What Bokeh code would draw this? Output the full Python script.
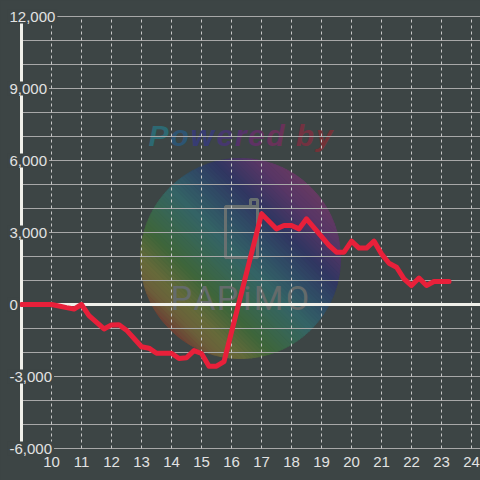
import numpy as np
from bokeh.plotting import figure
from bokeh.models import ColumnDataSource, GlobalInlineStyleSheet
from bokeh.core.properties import value
from bokeh.embed import file_html
from bokeh.resources import INLINE

BG = "#3d4545"

# ---- data ----
hours = [9.0, 10.0, 10.25, 10.5, 10.75, 11.0, 11.25, 11.75, 12.0, 12.25, 12.5,
         13.0, 13.25, 13.5, 14.0, 14.25, 14.5, 14.75, 15.0, 15.25, 15.5, 15.75,
         17.0, 17.5, 17.75, 18.0, 18.25, 18.5, 19.25, 19.5, 19.75, 20.0, 20.25,
         20.5, 20.75, 21.0, 21.25, 21.5, 21.75, 22.0, 22.25, 22.5, 22.75, 23.25]
pnl = [0, 0, -60, -130, -190, 0, -460, -1020, -850, -840, -1070,
       -1760, -1820, -2030, -2030, -2250, -2220, -1920, -2040, -2570, -2570, -2380,
       3780, 3150, 3290, 3290, 3150, 3570, 2460, 2180, 2180, 2640, 2350,
       2350, 2640, 2110, 1720, 1555, 1070, 790, 1100, 790, 960, 960]

x_ticks = list(range(10, 25))
x_tick_labels = [str(h) for h in x_ticks]
y_ticks = [-6000, -3000, 0, 3000, 6000, 9000, 12000]
y_tick_labels = ["-6,000", "-3,000", "0", "3,000", "6,000", "9,000", "12,000"]
y_grid = list(range(-6000, 13000, 1000))
x_min, y_min, y_max = 9, -6000, 12000

# ---- ranges / scale (frame = whole canvas) ----
SX = 30.0           # px per hour
SY = 0.024          # px per unit
x0 = x_min - 21 / SX
x1 = x_min + 459 / SX
y1 = y_max + 16 / SY
y0 = y_min - 32 / SY

p = figure(width=480, height=480, x_range=(x0, x1), y_range=(y0, y1),
           output_backend="svg", toolbar_location=None, min_border=0,
           background_fill_color=BG, border_fill_color=BG,
           outline_line_color=None)
p.stylesheets = [GlobalInlineStyleSheet(css="html, body { background-color: #3d4545; }")]
p.xgrid.visible = False
p.ygrid.visible = False
p.xaxis.visible = False
p.yaxis.visible = False

# ---- watermark (decoration) ----
cx, cy, R = 16.3, 1917.0, 100.0
stops_t = [-1.0, -0.85, -0.7, -0.45, -0.2, 0.0, 0.25, 0.5, 0.8, 1.0]
stops_c = [(108, 62, 52), (108, 96, 58), (103, 106, 58), (62, 102, 58),
           (56, 102, 84), (52, 100, 102), (48, 78, 102), (48, 54, 98),
           (88, 54, 102), (102, 58, 98)]
N = 64
edges = np.linspace(-R, R, N + 1)
sxs, sys_, cols = [], [], []
for a, b in zip(edges[:-1], edges[1:]):
    us = np.linspace(a, b, 6)
    vt = np.sqrt(np.maximum(R * R - us * us, 0))
    u = np.concatenate([us, us[::-1]])
    v = np.concatenate([vt, -vt[::-1]])
    xp = (u - v) / np.sqrt(2)
    yp = (u + v) / np.sqrt(2)
    sxs.append(list(cx + xp / SX))
    sys_.append(list(cy + yp / SY))
    t = (a + b) / 2 / R
    c = [int(round(np.interp(t, stops_t, [s[i] for s in stops_c]))) for i in range(3)]
    cols.append("#%02x%02x%02x" % tuple(c))
p.patches(sxs, sys_, fill_color=cols, line_color=cols, line_width=1)

# "Powered by"
letters = list("Powered by")
widths = [0.667, 0.611, 0.778, 0.556, 0.389, 0.556, 0.611, 0.278, 0.611, 0.556]
lcols = ["#2d6973", "#2d5573", "#373c73", "#46376e", "#55326a", "#5f3264",
         "#69325a", "#6e3240", "#733241", "#733237"]
fs = 30
scale = 186 / (sum(widths) * fs)
pos = 148 + np.concatenate([[0], np.cumsum(widths[:-1])]) * fs * scale
p.text(x=list(9 + (pos - 21) / SX), y=[(304 - 135) / SY] * len(letters),
       text=letters, text_color=lcols, text_font=value("Liberation Sans"),
       text_font_style="bold italic", text_font_size="%dpx" % fs,
       text_align="left", text_baseline="alphabetic")

# phone icon
p.quad(left=[9 + 204 / SX, 9 + 229 / SX], right=[9 + 236 / SX, 9 + 236 / SX],
       top=[98 / SY, 105 / SY], bottom=[47 / SY, 98 / SY],
       fill_color=None, line_color="#687070", line_width=3)
# PAPiMO
wm = list("PAPiMO")
wm_px = np.array([181, 204, 227, 247, 268, 297])
p.text(x=list(9 + (wm_px - 21) / SX), y=[(304 - 297) / SY] * 6, text=wm,
       text_color="#646b6b", text_font=value("Roboto"), text_font_size="34px",
       text_align="center", text_baseline="alphabetic")

# ---- grid ----
p.segment(x0=[x_min] * len(y_grid), x1=[x1] * len(y_grid), y0=y_grid, y1=y_grid,
          line_color="#a8a8a8", line_width=1)
p.segment(x0=x_ticks, x1=x_ticks, y0=[y_min] * len(x_ticks), y1=[y_max] * len(x_ticks),
          line_color="#c8c8c8", line_width=1, line_dash="3 3")

# zero line and axis line
p.segment(x0=[x_min], x1=[x1], y0=[0], y1=[0], line_color="#f0f0ea", line_width=3)
p.segment(x0=[x_min], x1=[x_min], y0=[y_min], y1=[y_max], line_color="#f0f0ea", line_width=3)

# ---- series ----
src = ColumnDataSource(dict(h=hours, v=pnl))
p.line("h", "v", source=src, line_color="#e8203a", line_width=5,
       line_join="round", line_cap="round")

# ---- tick labels ----
lab = ColumnDataSource(dict(x=[x_min] * len(y_ticks), y=y_ticks, t=y_tick_labels))
p.text("x", "y", text="t", source=lab, x_offset=-14, text_align="left",
       text_baseline="middle", text_color="#e2e2e2",
       text_font=value("Liberation Sans"), text_font_size="15px",
       background_fill_color=BG, padding=2)
xlab = ColumnDataSource(dict(x=x_ticks, y=[y_min - 13 / SY] * len(x_ticks), t=x_tick_labels))
p.text("x", "y", text="t", source=xlab, text_align="center",
       text_baseline="middle", text_color="#e2e2e2",
       text_font=value("Liberation Sans"), text_font_size="15px")

open("out.html", "w").write(file_html(p, INLINE))
